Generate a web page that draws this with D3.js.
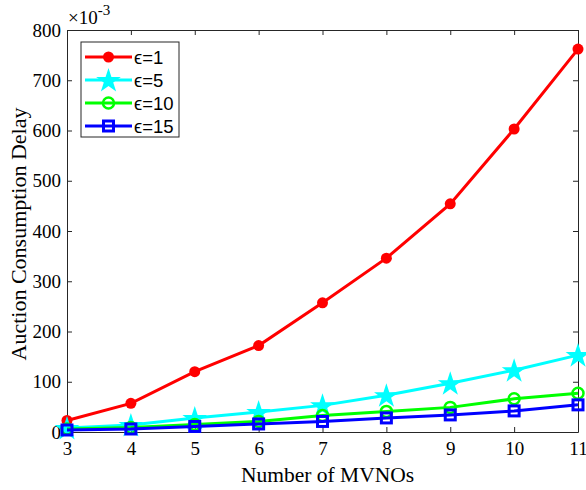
<!DOCTYPE html>
<html lang="en">
<head>
    <meta charset="UTF-8">
    <title>Auction Consumption Delay</title>
    <style>
        html, body {
            margin: 0;
            padding: 0;
            background-color: #fff;
        }
    </style>
</head>
<body>
    <div id="graph"></div>
    <script src="https://d3js.org/d3.v7.min.js"></script>
    <script>
        const width = 586;
        const height = 490;
        const margin = {top: 30, left: 67, bottom: 58, right: 8};
        const serif = "'Liberation Serif', 'Times New Roman', serif";
        const sans = "'Liberation Sans', Arial, sans-serif";

        // data (values in units of 1e-3)
        const mvnos = [3, 4, 5, 6, 7, 8, 9, 10, 11];
        const eps1 = [23, 57, 120, 172, 257, 346, 454, 603, 762];
        const eps5 = [8, 14, 28, 40, 53, 73, 97, 123, 153];
        const eps10 = [6, 9, 15, 21, 33, 41, 49, 66, 77];
        const eps15 = [4, 6, 11, 16, 21, 28, 34, 42, 54];
        const yTicks = [0, 100, 200, 300, 400, 500, 600, 700, 800];

        const series = [
            {name: "\u03f5=1", values: eps1, colour: "#ff0000", marker: "dot"},
            {name: "\u03f5=5", values: eps5, colour: "#00ffff", marker: "star"},
            {name: "\u03f5=10", values: eps10, colour: "#00ff00", marker: "circle"},
            {name: "\u03f5=15", values: eps15, colour: "#0000ff", marker: "square"}
        ];

        const svg = d3.select("#graph")
            .append("svg")
            .attr("width", width)
            .attr("height", height);

        const x = d3.scaleLinear()
            .domain([3, 11])
            .range([margin.left, width - margin.right]);
        const y = d3.scaleLinear()
            .domain([0, 800])
            .range([height - margin.bottom, margin.top]);

        const axisColour = "#262626";

        // AXES (ticks inward, box on all sides)
        const axisB = svg.append("g")
            .attr("transform", `translate(0,${y(0)})`)
            .call(d3.axisBottom(x).tickValues(mvnos).tickSizeInner(-5).tickSizeOuter(0).tickPadding(10));
        const axisL = svg.append("g")
            .attr("transform", `translate(${x(3)},0)`)
            .call(d3.axisLeft(y).tickValues(yTicks).tickSizeInner(-5).tickSizeOuter(0).tickPadding(6));
        const axisT = svg.append("g")
            .attr("transform", `translate(0,${y(800)})`)
            .call(d3.axisTop(x).tickValues(mvnos).tickSizeInner(-5).tickSizeOuter(0).tickFormat(""));
        const axisR = svg.append("g")
            .attr("transform", `translate(${x(11)},0)`)
            .call(d3.axisRight(y).tickValues(yTicks).tickSizeInner(-5).tickSizeOuter(0).tickFormat(""));

        [axisB, axisL, axisT, axisR].forEach(g => {
            g.attr("font-family", serif).attr("font-size", 19);
            g.selectAll("path").attr("stroke", axisColour).attr("stroke-width", 1);
            g.selectAll("line").attr("stroke", axisColour).attr("stroke-width", 1);
            g.selectAll("text").attr("fill", "#000");
        });

        // exponent label
        const expo = svg.append("text")
            .attr("x", x(3) + 1)
            .attr("y", 24)
            .attr("font-family", serif)
            .attr("font-size", 19);
        expo.append("tspan").text("\u00d710");
        expo.append("tspan").attr("dy", -9).attr("font-size", 15).text("-3");

        // axis titles
        svg.append("text")
            .attr("x", (x(3) + x(11)) / 2 + 5)
            .attr("y", 482)
            .attr("text-anchor", "middle")
            .attr("font-family", serif)
            .attr("font-size", 21.5)
            .text("Number of MVNOs");

        svg.append("text")
            .attr("transform", `translate(26,234) rotate(-90)`)
            .attr("text-anchor", "middle")
            .attr("font-family", serif)
            .attr("font-size", 22)
            .text("Auction Consumption Delay");

        const star = d3.symbol().type(d3.symbolStar).size(190);

        function drawMarker(g, s, cx, cy) {
            if (s.marker === "dot") {
                g.append("circle").attr("cx", cx).attr("cy", cy).attr("r", 5.5)
                    .attr("fill", s.colour);
            } else if (s.marker === "star") {
                g.append("path").attr("d", star)
                    .attr("transform", `translate(${cx},${cy + 1})`)
                    .attr("fill", s.colour);
            } else if (s.marker === "circle") {
                g.append("circle").attr("cx", cx).attr("cy", cy).attr("r", 5.5)
                    .attr("fill", "none").attr("stroke", s.colour).attr("stroke-width", 2.5);
            } else {
                g.append("rect").attr("x", cx - 5).attr("y", cy - 5)
                    .attr("width", 10).attr("height", 10)
                    .attr("fill", "none").attr("stroke", s.colour).attr("stroke-width", 3);
            }
        }

        const line = d3.line()
            .x((d, i) => x(mvnos[i]))
            .y(d => y(d));

        // LINES
        series.forEach(s => {
            const g = svg.append("g");
            g.append("path")
                .datum(s.values)
                .attr("d", line)
                .attr("fill", "none")
                .attr("stroke", s.colour)
                .attr("stroke-width", 3);
            s.values.forEach((v, i) => drawMarker(g, s, x(mvnos[i]), y(v)));
        });

        // LEGEND
        const legend = svg.append("g");
        legend.append("rect")
            .attr("x", 81)
            .attr("y", 42)
            .attr("width", 98)
            .attr("height", 95)
            .attr("fill", "#fff")
            .attr("stroke", axisColour)
            .attr("stroke-width", 1);

        series.forEach((s, i) => {
            const ly = 57 + i * 23;
            legend.append("line")
                .attr("x1", 85).attr("x2", 132)
                .attr("y1", ly).attr("y2", ly)
                .attr("stroke", s.colour)
                .attr("stroke-width", 3);
            drawMarker(legend, s, 108.5, ly);
            legend.append("text")
                .attr("x", 134)
                .attr("y", ly + 6.5)
                .attr("font-family", sans)
                .attr("font-size", 18.5)
                .text(s.name);
        });
    </script>
</body>
</html>
